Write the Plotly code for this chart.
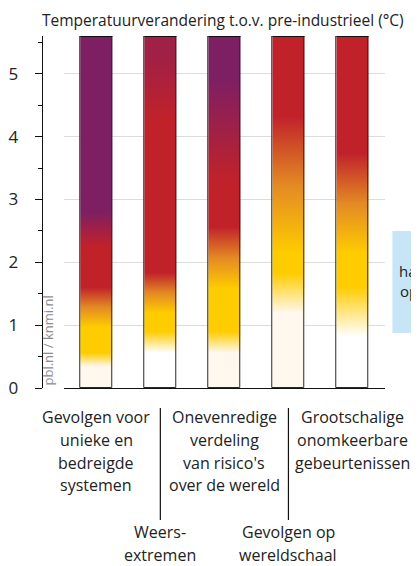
import plotly.graph_objects as go

# ---------------- data ----------------
category_names = [
    "Gevolgen voor unieke en bedreigde systemen",
    "Weersextremen",
    "Onevenredige verdeling van risico's over de wereld",
    "Gevolgen op wereldschaal",
    "Grootschalige onomkeerbare gebeurtenissen",
]
label_lines = [
    ["Gevolgen voor", "unieke en", "bedreigde", "systemen"],
    ["Weers-", "extremen"],
    ["Onevenredige", "verdeling", "van risico's", "over de wereld"],
    ["Gevolgen op", "wereldschaal"],
    ["Grootschalige", "onomkeerbare", "gebeurtenissen"],
]
label_row = [0, 1, 0, 1, 0]
bar_top = [5.6, 5.6, 5.6, 5.6, 5.6]

# risk level (0 = niet detecteerbaar, 1 = gemiddeld, 2 = hoog, 3 = zeer hoog) at temperature (°C)
temps_unique = [0.34, 0.56, 0.97, 1.60, 2.25, 2.80]
levels_unique = [0, 1, 1, 2, 2, 3]
temps_weather = [0.56, 0.90, 1.19, 1.83, 4.26, 5.27]
levels_weather = [0, 1, 1, 2, 2, 2.5]
temps_distribution = [0.56, 0.90, 1.58, 2.56, 3.30, 4.90]
levels_distribution = [0, 1, 1, 2, 2, 3]
temps_global = [1.19, 1.83, 2.14, 4.31]
levels_global = [0, 1, 1, 2]
temps_largescale = [0.82, 1.61, 2.14, 3.73]
levels_largescale = [0, 1, 1, 2]

risk_temps = [temps_unique, temps_weather, temps_distribution, temps_global, temps_largescale]
risk_levels = [levels_unique, levels_weather, levels_distribution, levels_global, levels_largescale]

y_tick_values = [0, 1, 2, 3, 4, 5]
y_tick_labels = ["0", "1", "2", "3", "4", "5"]

title_text = "Temperatuurverandering t.o.v. pre-industrieel (°C)"
source_text = "pbl.nl / knmi.nl"

# ---------------- style ----------------
# the page body has an 8px margin; work in window pixels and convert
OFF = 8
WIN_W, WIN_H = 419, 566
W, H = WIN_W - OFF, WIN_H - OFF
Y0_PX, YTOP_PX = 388, 36          # window px of y=0 and of the plot top
MT = YTOP_PX - OFF
MB = WIN_H - Y0_PX
PLOT_H = H - MT - MB
FONT = "Open Sans"
TXT = "#222222"
base_colour = ["#FFF8EE", "#FFFFFF", "#FFF8EE", "#FFF8EE", "#FFFFFF"]
palette = {1: "#FFCC00", 1.5: "#E38A24", 2: "#C1222A", 3: "#7E1F63"}
bar_width = 0.5


def px2x(px):
    return (px - OFF) / W


def py2paper(py):
    return (Y0_PX - py) / PLOT_H


def hex2rgb(h):
    h = h.lstrip("#")
    return tuple(int(h[i:i + 2], 16) for i in (0, 2, 4))


def level_colour(level, base):
    pal = dict(palette)
    pal[0] = base
    keys = sorted(pal)
    if level <= keys[0]:
        return pal[keys[0]]
    for a, b in zip(keys[:-1], keys[1:]):
        if a <= level <= b:
            f = (level - a) / (b - a)
            ca, cb = hex2rgb(pal[a]), hex2rgb(pal[b])
            c = [round(ca[j] + (cb[j] - ca[j]) * f) for j in range(3)]
            return "rgb(%d,%d,%d)" % tuple(c)
    return pal[keys[-1]]


def build_colourscale(temps, levels, top, base):
    keys = sorted(list(palette) + [0])
    pts = [(0.0, levels[0])]
    for i, (t, l) in enumerate(zip(temps, levels)):
        if i > 0:
            t0, l0 = temps[i - 1], levels[i - 1]
            mids = [k for k in keys if min(l0, l) < k < max(l0, l)]
            if l < l0:
                mids = mids[::-1]
            for k in mids:
                pts.append((t0 + (k - l0) / (l - l0) * (t - t0), k))
        pts.append((t, l))
    pts.append((top, levels[-1]))
    return [[min(1.0, t / top), level_colour(l, base)] for t, l in pts]


fig = go.Figure()

# gradient fills
for i in range(len(category_names)):
    top = bar_top[i]
    cs = build_colourscale(risk_temps[i], risk_levels[i], top, base_colour[i])
    fig.add_trace(go.Scatter(
        x=[i - bar_width / 2, i + bar_width / 2], y=[top, top],
        fill="tozeroy", mode="lines",
        line=dict(width=0, color="rgba(0,0,0,0)"),
        fillgradient=dict(type="vertical", colorscale=cs, start=0, stop=top),
        hoverinfo="skip", showlegend=False,
    ))

# bar outlines (on overlaying axis so they sit on top)
fig.add_trace(go.Bar(
    x=list(range(len(category_names))), y=bar_top, width=bar_width,
    xaxis="x2", marker=dict(color="rgba(0,0,0,0)", line=dict(color="#2a2a2a", width=1)),
    hovertext=category_names, showlegend=False,
))
for i in range(len(category_names)):
    fig.add_trace(go.Scatter(
        x=[i - bar_width / 2, i + bar_width / 2], y=[bar_top[i], bar_top[i]],
        xaxis="x2", mode="lines", line=dict(color="#111111", width=2.2),
        hoverinfo="skip", showlegend=False,
    ))

annotations = []
# title
annotations.append(dict(
    text=title_text, xref="paper", yref="paper", x=px2x(35), y=1 + MT / PLOT_H,
    xanchor="left", yanchor="top", showarrow=False, borderpad=0,
    font=dict(family=FONT, size=15.5, color=TXT),
))
# category labels
row_y0 = [416.5, 531.5]
line_step = 23
for i, lines in enumerate(label_lines):
    for j, line in enumerate(lines):
        annotations.append(dict(
            text=line, xref="x", yref="paper", x=i,
            y=py2paper(row_y0[label_row[i]] + j * line_step),
            xanchor="center", yanchor="middle", showarrow=False,
            font=dict(family=FONT, size=16, color=TXT),
        ))
# source watermark
annotations.append(dict(
    text=source_text, xref="paper", yref="paper", x=px2x(43), y=py2paper(340),
    xanchor="center", yanchor="middle", textangle=-90, showarrow=False,
    font=dict(family=FONT, size=13, color="#8c8c8c"),
))
# clipped side box text
annotations.append(dict(
    text="halve graad<br>opwarming", xref="paper", yref="paper", x=px2x(397), y=py2paper(281),
    xanchor="left", yanchor="middle", align="center", showarrow=False,
    font=dict(family=FONT, size=15, color=TXT),
))

shapes = []
for i in range(len(category_names)):
    if label_row[i] == 1:
        shapes.append(dict(type="line", xref="x", yref="paper", x0=i, x1=i,
                           y0=py2paper(408), y1=py2paper(520),
                           line=dict(color="#111111", width=1.2)))
shapes.append(dict(type="rect", xref="paper", yref="paper", x0=px2x(392), x1=1.3,
                   y0=py2paper(333), y1=py2paper(231), fillcolor="#C6E6F8",
                   line=dict(width=0), layer="below"))

fig.update_layout(
    width=W, height=H,
    margin=dict(l=0, r=0, t=MT, b=MB),
    paper_bgcolor="white", plot_bgcolor="white",
    bargap=0, barmode="overlay",
    showlegend=False,
    xaxis=dict(domain=[px2x(59), px2x(384)], range=[-0.5, 4.5], showline=True,
               linecolor="#111111", linewidth=1.2, showticklabels=False, ticks="",
               showgrid=False, zeroline=False, fixedrange=True),
    xaxis2=dict(overlaying="x", range=[-0.5, 4.5], visible=False, fixedrange=True),
    yaxis=dict(range=[0, 5.6], anchor="free", position=px2x(36), showline=True,
               linecolor="#111111", linewidth=1, ticks="outside", ticklen=7,
               tickcolor="#111111", tickwidth=1, tickvals=y_tick_values,
               ticktext=y_tick_labels, showgrid=True, gridcolor="#dcdcdc",
               gridwidth=1, zeroline=False, ticklabelstandoff=13,
               tickfont=dict(family=FONT, size=17, color=TXT),
               minor=dict(dtick=0.5, tick0=0, ticks="outside", ticklen=4,
                          tickcolor="#111111", tickwidth=1, showgrid=False),
               fixedrange=True),
    annotations=annotations,
    shapes=shapes,
)

fig.write_html("out.html")
